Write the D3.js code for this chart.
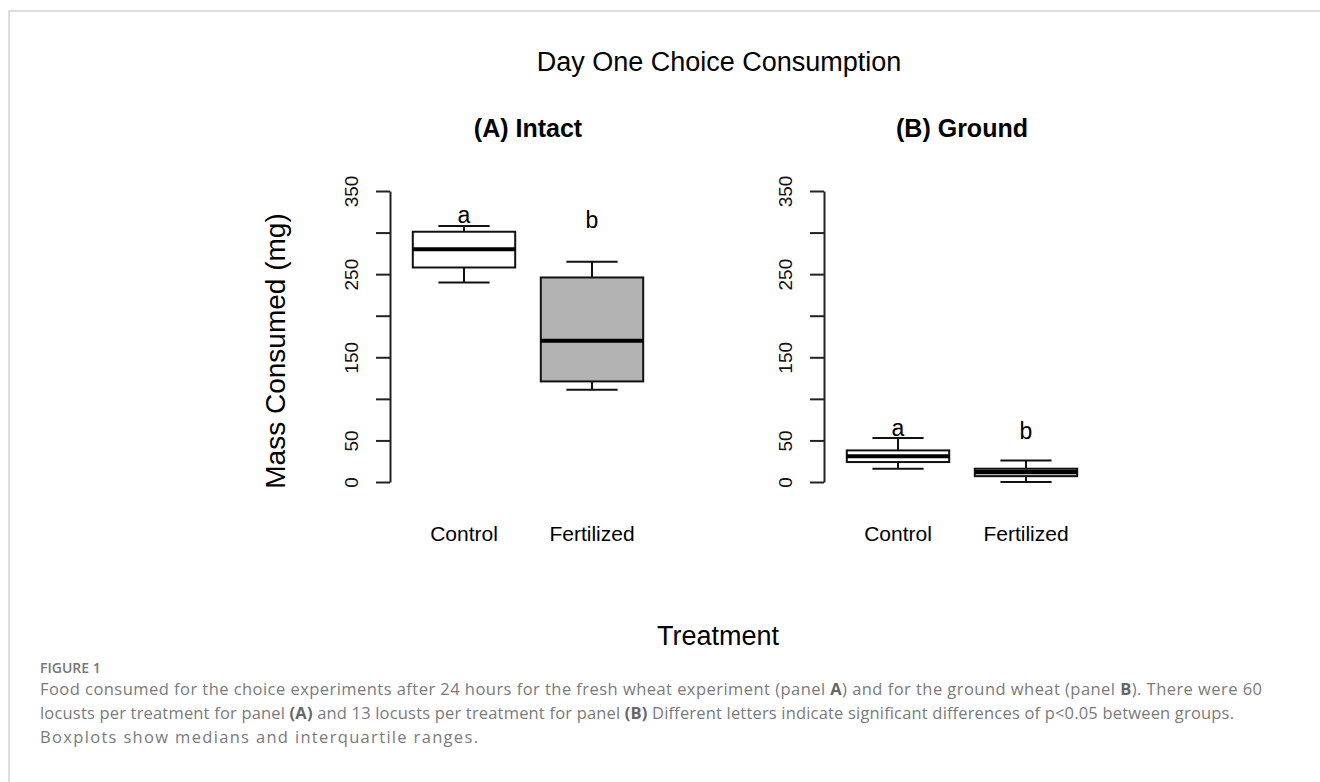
<!DOCTYPE html>
<html>
<head>
<meta charset="utf-8">
<script src="https://cdn.jsdelivr.net/npm/d3@7"></script>
<style>
    body { margin: 0; background: #fff; }
    svg { display: block; }
</style>
</head>
<body>
<div class="chart"></div>
<script>
const panelTitles = ["(A) Intact", "(B) Ground"]
const categories = ["Control", "Fertilized"]
// lower whisker, Q1, median, Q3, upper whisker
const intactControl = [240, 258, 280, 301, 308]
const intactFertilized = [111, 121, 170, 246, 265]
const groundControl = [16, 24, 31, 38, 53]
const groundFertilized = [0, 7, 12, 16, 26]
const letters = ["a", "b"]
const intactLetterY = [311, 306]
const groundLetterY = [55, 52]
const yTicks = [0, 50, 100, 150, 200, 250, 300, 350]
const yTickLabels = ["0", "50", "", "150", "", "250", "", "350"]

const W = 1320, H = 782
const chartFont = "'Liberation Sans', Arial, sans-serif"
const boxFills = ["#ffffff", "#b3b3b3"]

const svg = d3.select(".chart")
    .append("svg")
    .attr("width", W)
    .attr("height", H)

// frame lines of the figure card
svg.append("path")
    .attr("d", `M9,${H} V11 H${W}`)
    .attr("fill", "none")
    .attr("stroke", "#d2d2d2")
    .attr("stroke-width", 1.5)

const y = d3.scaleLinear().domain([0, 350]).range([482, 191])

const panels = [
    { title: panelTitles[0], axisX: 390, range: [464, 592], stats: [intactControl, intactFertilized], letterY: intactLetterY },
    { title: panelTitles[1], axisX: 824, range: [898, 1026], stats: [groundControl, groundFertilized], letterY: groundLetterY }
]

//main title
svg.append("text")
    .attr("x", 719)
    .attr("y", 71)
    .attr("text-anchor", "middle")
    .style("font-family", chartFont)
    .style("font-size", "27px")
    .text("Day One Choice Consumption")

panels.forEach((p, pi) => {
    const x = d3.scalePoint().domain(categories).range(p.range)
    const boxW = x.step() * 0.8
    const g = svg.append("g")

    //panel title
    g.append("text")
        .attr("x", (p.range[0] + p.range[1]) / 2)
        .attr("y", 137)
        .attr("text-anchor", "middle")
        .style("font-family", chartFont)
        .style("font-size", "25px")
        .style("font-weight", "bold")
        .text(p.title)

    //y axis
    const axis = g.append("g")
        .attr("transform", `translate(${p.axisX}, 0)`)
        .call(d3.axisLeft(y)
            .tickValues(yTicks)
            .tickSize(14)
            .tickSizeOuter(0)
            .tickFormat((d, i) => yTickLabels[i]))
    axis.select(".domain").attr("stroke", "#222").attr("stroke-width", 2)
    axis.selectAll(".tick line").attr("stroke", "#222").attr("stroke-width", 2)
    axis.selectAll(".tick text")
        .attr("x", null)
        .attr("dy", null)
        .attr("transform", "translate(-32, 0) rotate(-90)")
        .attr("text-anchor", "middle")
        .attr("fill", "#111")
        .style("font-family", chartFont)
        .style("font-size", "19px")

    const rows = categories.map((c, i) => ({ cat: c, s: p.stats[i], fill: boxFills[i], letter: letters[i], ly: p.letterY[i] }))

    const box = g.selectAll(".box")
        .data(rows)
        .join("g")
        .attr("class", "box")

    // whiskers
    box.append("line")
        .attr("x1", d => x(d.cat)).attr("x2", d => x(d.cat))
        .attr("y1", d => y(d.s[3])).attr("y2", d => y(d.s[4]))
        .attr("stroke", "#111").attr("stroke-width", 2)
    box.append("line")
        .attr("x1", d => x(d.cat)).attr("x2", d => x(d.cat))
        .attr("y1", d => y(d.s[1])).attr("y2", d => y(d.s[0]))
        .attr("stroke", "#111").attr("stroke-width", 2)
    box.append("line")
        .attr("x1", d => x(d.cat) - boxW / 4).attr("x2", d => x(d.cat) + boxW / 4)
        .attr("y1", d => y(d.s[4])).attr("y2", d => y(d.s[4]))
        .attr("stroke", "#111").attr("stroke-width", 2)
    box.append("line")
        .attr("x1", d => x(d.cat) - boxW / 4).attr("x2", d => x(d.cat) + boxW / 4)
        .attr("y1", d => y(d.s[0])).attr("y2", d => y(d.s[0]))
        .attr("stroke", "#111").attr("stroke-width", 2)

    // box body
    box.append("rect")
        .attr("x", d => x(d.cat) - boxW / 2)
        .attr("width", boxW)
        .attr("y", d => y(d.s[3]))
        .attr("height", d => y(d.s[1]) - y(d.s[3]))
        .attr("fill", d => d.fill)
        .attr("stroke", "#111")
        .attr("stroke-width", 2)

    // median
    box.append("line")
        .attr("x1", d => x(d.cat) - boxW / 2).attr("x2", d => x(d.cat) + boxW / 2)
        .attr("y1", d => y(d.s[2])).attr("y2", d => y(d.s[2]))
        .attr("stroke", "#000").attr("stroke-width", 4)

    // significance letters
    box.append("text")
        .attr("x", d => x(d.cat))
        .attr("y", d => y(d.ly))
        .attr("text-anchor", "middle")
        .style("font-family", chartFont)
        .style("font-size", "23px")
        .text(d => d.letter)

    //category labels
    box.append("text")
        .attr("x", d => x(d.cat))
        .attr("y", 541)
        .attr("text-anchor", "middle")
        .style("font-family", chartFont)
        .style("font-size", "21px")
        .text(d => d.cat)

    if (pi === 0) {
        //y axis label
        g.append("text")
            .attr("transform", "translate(285, 351) rotate(-90)")
            .attr("text-anchor", "middle")
            .style("font-family", chartFont)
            .style("font-size", "28px")
            .text("Mass Consumed (mg)")
    }
})

//x axis label
svg.append("text")
    .attr("x", 718)
    .attr("y", 645)
    .attr("text-anchor", "middle")
    .style("font-family", chartFont)
    .style("font-size", "27px")
    .text("Treatment")

// caption below the figure
const capFont = "'Open Sans', 'Noto Sans', sans-serif"
svg.append("text")
    .attr("x", 40)
    .attr("y", 673)
    .style("font-family", capFont)
    .style("font-size", "14px")
    .style("font-weight", "600")
    .attr("fill", "#777")
    .text("FIGURE 1")

const captionLines = [
    [["Food consumed for the choice experiments after 24 hours for the fresh wheat experiment (panel ", 0], ["A", 1], [") and for the ground wheat (panel ", 0], ["B", 1], ["). There were 60", 0]],
    [["locusts per treatment for panel ", 0], ["(A)", 1], [" and 13 locusts per treatment for panel ", 0], ["(B)", 1], [" Different letters indicate significant differences of p<0.05 between groups.", 0]],
    [["Boxplots show medians and interquartile ranges.", 0]]
]
const captionWidths = [1222, 1194, 438]

captionLines.forEach((parts, li) => {
    const t = svg.append("text")
        .attr("x", 40)
        .attr("y", 695 + li * 24)
        .attr("textLength", captionWidths[li])
        .attr("lengthAdjust", "spacing")
        .style("font-family", capFont)
        .style("font-size", "16.5px")
        .attr("fill", "#7a7a7a")
    parts.forEach(([s, b]) => {
        t.append("tspan")
            .style("font-weight", b ? "700" : "400")
            .attr("fill", b ? "#666" : "#7a7a7a")
            .text(s)
    })
})
</script>
</body>
</html>
